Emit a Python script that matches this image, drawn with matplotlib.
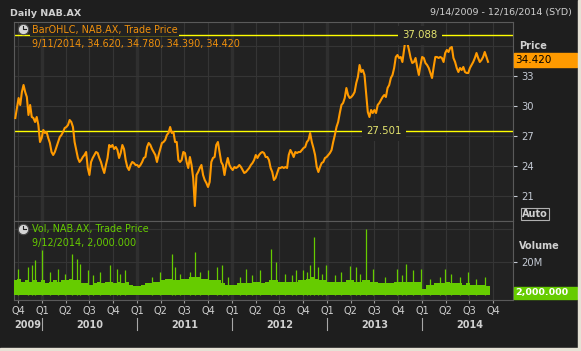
import matplotlib.pyplot as plt
import matplotlib.dates as mdates
import matplotlib.transforms as mtrans
from matplotlib.patches import Rectangle
from matplotlib.lines import Line2D
import numpy as np
import pandas as pd

plt.rcParams['font.family'] = 'DejaVu Sans'

# NAB.AX closing prices (roughly weekly), Sep 2009 - Sep 2014
close = [
    28.8, 29.8, 30.8, 30.1, 31.4, 32.1, 31.4, 30.9, 29.1, 30.1,
    28.9, 28.8, 28.4, 28.9, 28.1, 26.4, 26.8, 27.6, 27.3, 27.4,
    26.8, 26.3, 25.4, 25.1, 25.4, 25.9, 26.4, 26.9, 27.1, 27.4,
    27.8, 27.9, 28.1, 28.6, 28.4, 27.9, 26.4, 25.6, 24.8, 24.4,
    24.6, 24.9, 25.1, 25.4, 23.8, 23.1, 24.4, 24.8, 25.1, 25.4,
    25.3, 24.8, 24.4, 23.8, 23.3, 24.1, 24.8, 26.1, 25.9, 26.1,
    25.7, 25.9, 25.6, 24.8, 25.3, 26.1, 25.7, 24.6, 23.9, 23.6,
    24.1, 24.4, 24.3, 24.1, 24.1,
    23.9, 24.1, 24.4, 24.8, 24.9, 25.9, 26.3, 26.1, 25.7, 25.4,
    25.1, 24.4, 25.1, 25.7, 26.3, 26.4, 26.6, 27.1, 27.3, 27.9,
    27.3, 27.4, 26.4, 26.4, 24.6, 24.4, 24.6, 25.4, 25.3, 24.4,
    23.8, 24.9, 24.1, 22.8, 20.0, 23.1, 23.4, 23.8, 24.1, 23.1,
    22.6, 22.3, 21.9, 22.4, 24.4, 24.8, 24.9, 26.1, 26.4, 25.4,
    24.4, 24.1, 23.1, 24.1, 24.8, 24.1, 23.8, 23.6, 23.9, 23.8,
    23.9, 24.1, 23.9, 23.6, 23.3, 23.4, 23.6, 23.8, 24.1, 24.3,
    24.6, 25.1, 24.8, 25.1, 25.3, 25.4, 25.3, 24.9,
    24.9, 24.6, 23.8, 23.4, 22.6, 22.8, 23.3, 23.8, 23.8, 23.9,
    23.8, 23.9, 23.8, 25.1, 25.6, 25.3, 24.9, 25.4, 25.3, 25.4,
    25.4, 25.6, 25.8, 25.9, 26.4, 26.6, 27.3, 26.4, 25.8, 25.1,
    23.9, 23.4, 23.9, 24.3, 24.4, 24.8, 24.9, 25.1, 25.3, 25.6,
    26.4, 27.1, 27.9, 28.4, 29.3, 30.1, 30.3, 30.8, 31.8, 31.1,
    30.8, 30.9, 31.1, 31.4, 32.3, 32.9, 34.1, 33.4, 33.6, 33.1,
    31.3, 29.4, 28.9, 29.6, 29.3, 29.6, 29.3, 30.1, 30.3, 30.6,
    30.9, 31.1, 30.9, 31.8, 32.1, 32.8, 33.1,
    33.8, 34.9, 35.1, 34.8, 34.9, 34.4, 35.6, 36.8, 36.3, 35.6,
    34.8, 34.3, 34.4, 34.8, 33.9, 33.1, 34.1, 34.9, 34.8, 34.3,
    34.1, 33.8, 33.3, 32.8, 33.9, 34.9, 34.9, 34.8, 34.9, 34.8,
    34.4, 35.3, 35.6, 35.4, 35.8, 35.9, 34.8, 34.4, 33.8, 33.4,
    33.8, 33.6, 33.9, 33.4, 33.3, 33.3, 33.8, 34.1, 34.4, 34.8,
    35.3, 34.8, 34.4, 34.6, 34.9, 35.4, 34.9, 34.42,
]
price_dates = pd.date_range('2009-09-19', '2014-09-11', periods=len(close))

# typical traded volume (millions), about every two weeks
vol_base = [
    9, 10, 8, 9, 8, 9, 8, 9, 7, 8, 9, 8, 9, 9, 10, 9, 9, 7, 7, 6,
    7, 8, 7, 8, 8, 7, 8, 7, 8, 6, 5.5, 5.5, 6, 7, 7, 8, 8, 9, 10, 10,
    9, 9, 10, 10, 11, 11, 11, 10, 10, 9, 9, 9, 7, 6, 6, 6, 7, 7, 7, 7,
    8, 8, 7, 8, 9, 9, 8, 8, 8, 8, 8, 9, 9, 10, 11, 10, 9, 9, 8, 8,
    8, 8, 8, 9, 9, 8, 8, 9, 9, 8, 8, 7, 7, 7, 7, 8, 8, 8, 8, 8,
    8, 8, 3.5, 6, 6, 7, 7, 7, 8, 7, 7, 7, 6, 7, 6, 6, 6, 6, 5.5,
]
vol_dates = pd.date_range('2009-09-16', '2014-09-12', periods=len(vol_base))

# single-day volume spikes (millions)
spike_dates = pd.to_datetime([
    '2009-09-29', '2009-11-07', '2009-11-21', '2009-12-04', '2009-12-29',
    '2010-01-30', '2010-03-02', '2010-03-29', '2010-04-24', '2010-05-13',
    '2010-05-26', '2010-06-26', '2010-07-15', '2010-08-11', '2010-09-18',
    '2010-10-14', '2010-10-27', '2010-11-15', '2011-02-27', '2011-03-30',
    '2011-05-13', '2011-05-26', '2011-06-14', '2011-07-23', '2011-08-11',
    '2011-08-30', '2011-09-30', '2011-11-02', '2011-11-21', '2011-12-15',
    '2012-01-30', '2012-02-25', '2012-03-16', '2012-04-16', '2012-05-31',
    '2012-06-19', '2012-07-21', '2012-08-17', '2012-09-04', '2012-09-29',
    '2012-10-14', '2012-10-25', '2012-11-11', '2012-11-25', '2012-12-11',
    '2012-12-26', '2013-01-30', '2013-02-24', '2013-03-28', '2013-04-23',
    '2013-05-06', '2013-05-29', '2013-06-25', '2013-08-10', '2013-09-25',
    '2013-10-15', '2013-11-01', '2013-11-26', '2013-12-26', '2014-01-30',
    '2014-03-09', '2014-03-29', '2014-04-23', '2014-05-26', '2014-06-25',
    '2014-07-27', '2014-08-29',
])
spike_vol = [
    16, 17, 18, 21, 27,
    14, 16, 13, 25, 22,
    19, 15, 12, 14, 18,
    16, 13, 15, 11, 14,
    25, 17, 13, 14, 26,
    14, 15, 17, 18, 11,
    11, 16, 12, 15, 28,
    20, 13, 12, 15, 15,
    14, 18, 35, 17, 13,
    18, 12, 14, 17.5, 17,
    13, 40, 16, 11, 16,
    12, 19, 15, 16, 10,
    11, 16, 13, 11, 14,
    10, 11,
]

resistance = 37.088
support = 27.501
last_close = 34.420
price_ticks = [21, 24, 27, 30, 33]
price_grid = [21, 24, 27, 30, 33, 36]
vol_grid = [20e6, 40e6]
quarters = pd.date_range('2009-10-01', '2014-10-01', freq='QS')
q_labels = ['Q%d' % q.quarter for q in quarters]
years = [2009, 2010, 2011, 2012, 2013, 2014]

BG = '#1e1e1e'
AXBG = '#222222'
GRID = '#353535'
SPINE = '#5a5a5a'
ORANGE = '#ff9a00'
ORANGE_TXT = '#f0900c'
GREEN = '#66cc00'
YELLOW = '#ffff00'
TXT = '#d0d0d0'
TICK = '#c4cad4'

W, H = 581, 351
fig = plt.figure(figsize=(W / 100, H / 100), dpi=100, facecolor=BG)


def fx(x):
    return x / W


def fy(y):
    return 1 - y / H


ax = fig.add_axes([fx(14), fy(221), (513 - 14) / W, (221 - 22.3) / H])
axv = fig.add_axes([fx(14), fy(299.5), (513 - 14) / W, (299.5 - 221) / H], sharex=ax)

for a in (ax, axv):
    a.set_facecolor(AXBG)
    for s in a.spines.values():
        s.set_color(SPINE)
        s.set_linewidth(0.8)
    for q in quarters:
        if q.month == 1:
            a.axvline(q, color='#2f2f2f', lw=2.4, zorder=0)
        else:
            a.axvline(q, color=GRID, lw=0.8, zorder=0)

for g in price_grid:
    ax.axhline(g, color=GRID, lw=0.8, zorder=0)
for g in vol_grid:
    axv.axhline(g, color=GRID, lw=0.8, zorder=0)

# price
ax.plot(price_dates, close, color=ORANGE, lw=1.5, zorder=3)
ax.set_xlim(pd.Timestamp('2009-09-14'), pd.Timestamp('2014-12-16'))
ax.set_ylim(18.5, 38.37)

ax.axhline(resistance, color=YELLOW, lw=1, zorder=2)
ax.axhline(support, color=YELLOW, lw=1, zorder=2)
lvl_tr = mtrans.blended_transform_factory(ax.transAxes, ax.transData)
ax.text(0.8136, resistance, '%.3f' % resistance, color='#e4e46e', fontsize=7.3,
        ha='center', va='center', transform=lvl_tr, zorder=4,
        bbox=dict(boxstyle='square,pad=0.45', fc=AXBG, ec='none'))
ax.text(0.7415, support, '%.3f' % support, color='#e4e46e', fontsize=7.3,
        ha='center', va='center', transform=lvl_tr, zorder=4,
        bbox=dict(boxstyle='square,pad=0.45', fc=AXBG, ec='none'))

ax.yaxis.tick_right()
ax.set_yticks(price_ticks)
ax.tick_params(axis='y', colors=TICK, length=3, width=0.8, pad=2.8, labelsize=7.2)
ax.tick_params(axis='x', bottom=False, labelbottom=False)

# volume
widths = np.diff(mdates.date2num(vol_dates)).mean()
axv.bar(vol_dates, np.array(vol_base) * 1e6, width=widths, color=GREEN, linewidth=0, zorder=3)
axv.vlines(spike_dates, 0, np.array(spike_vol) * 1e6, color=GREEN, lw=0.9, zorder=3)
axv.set_ylim(-2.7e6, 44.8e6)
axv.yaxis.tick_right()
axv.set_yticks([20e6])
axv.set_yticklabels(['20M'])
axv.tick_params(axis='y', colors=TICK, length=3, width=0.8, pad=2.8, labelsize=7.2)

axv.set_xticks(quarters)
axv.set_xticklabels(q_labels)
axv.tick_params(axis='x', colors='#9a9a9a', labelcolor=TXT, length=2.4, width=0.8,
                pad=2.6, labelsize=7)

# year labels and separators under the quarter labels
yr_tr = mtrans.blended_transform_factory(axv.transData, fig.transFigure)
for yr in years:
    if yr == 2009:
        fig.text(mdates.date2num(pd.Timestamp('2009-09-16')), fy(324.5), str(yr),
                 transform=yr_tr, ha='left', va='center', fontsize=7,
                 fontweight='bold', color=TXT)
    else:
        fig.text(mdates.date2num(pd.Timestamp(yr, 7, 1)), fy(324.5), str(yr),
                 transform=yr_tr, ha='center', va='center', fontsize=7,
                 fontweight='bold', color=TXT)
        xd = mdates.date2num(pd.Timestamp(yr, 1, 1))
        fig.add_artist(Line2D([xd, xd], [fy(318), fy(330)], transform=yr_tr,
                              color='#a8a8a8', lw=0.8))

# header
fig.text(fx(10), fy(13), 'Daily NAB.AX', color=TXT, fontsize=6.8,
         fontweight='bold', va='center', ha='left')
fig.text(fx(572), fy(13), '9/14/2009 - 12/16/2014 (SYD)', color=TXT,
         fontsize=6.8, va='center', ha='right')

# legends with clock icons
for cy in (28.5, 228.5):
    fig.add_artist(Line2D([fx(23)], [fy(cy)], marker='o', markersize=7.5,
                          mfc='#d4d4d4', mec='#4a4a4a', mew=0.8,
                          transform=fig.transFigure))
    fig.add_artist(Line2D([fx(23), fx(23), fx(25.5)], [fy(cy - 3), fy(cy), fy(cy)],
                          color='#202020', lw=0.8, transform=fig.transFigure))

fig.text(fx(31.5), fy(29.5), 'BarOHLC, NAB.AX, Trade Price', color=ORANGE_TXT,
         fontsize=6.9, va='center', ha='left',
         bbox=dict(boxstyle='square,pad=0.15', fc=AXBG, ec='none'))
fig.text(fx(31.5), fy(44.3), '9/11/2014, 34.620, 34.780, 34.390, 34.420',
         color=ORANGE_TXT, fontsize=6.9, va='center', ha='left')
fig.text(fx(31.7), fy(229.3), 'Vol, NAB.AX, Trade Price', color=GREEN,
         fontsize=6.9, va='center', ha='left')
fig.text(fx(31.7), fy(242.7), '9/12/2014, 2,000.000', color=GREEN,
         fontsize=6.9, va='center', ha='left')

# right side labels
fig.text(fx(519), fy(46), 'Price', color=TXT, fontsize=7, fontweight='bold',
         va='center', ha='left')
fig.add_artist(Rectangle((fx(514), fy(67)), 63 / W, 14 / H, color=ORANGE,
                         transform=fig.transFigure))
fig.text(fx(515), fy(60), '%.3f' % last_close, color='black', fontsize=7.5,
         va='center', ha='left')
fig.text(fx(522), fy(214), 'Auto', color=TXT, fontsize=7, fontweight='bold',
         va='center', ha='left',
         bbox=dict(boxstyle='square,pad=0.12', fc='none', ec='#b0b0b0', lw=0.8))
fig.text(fx(519), fy(246), 'Volume', color=TXT, fontsize=7, fontweight='bold',
         va='center', ha='left')
fig.add_artist(Rectangle((fx(514), fy(299.3)), 63 / W, 12.6 / H, color=GREEN,
                         transform=fig.transFigure))
fig.text(fx(515), fy(293), '2,000.000', color='white', fontsize=6.8,
         fontweight='bold', va='center', ha='left')

# light window frame at the bottom and right edge
fig.add_artist(Rectangle((0, 0), 1, 3.3 / H, color='#e6e2d6',
                         transform=fig.transFigure))
fig.add_artist(Rectangle((fx(577.7), 0), 3.3 / W, 1, color='#e6e2d6',
                         transform=fig.transFigure))

fig.savefig('out.png', dpi=100, facecolor=BG)
